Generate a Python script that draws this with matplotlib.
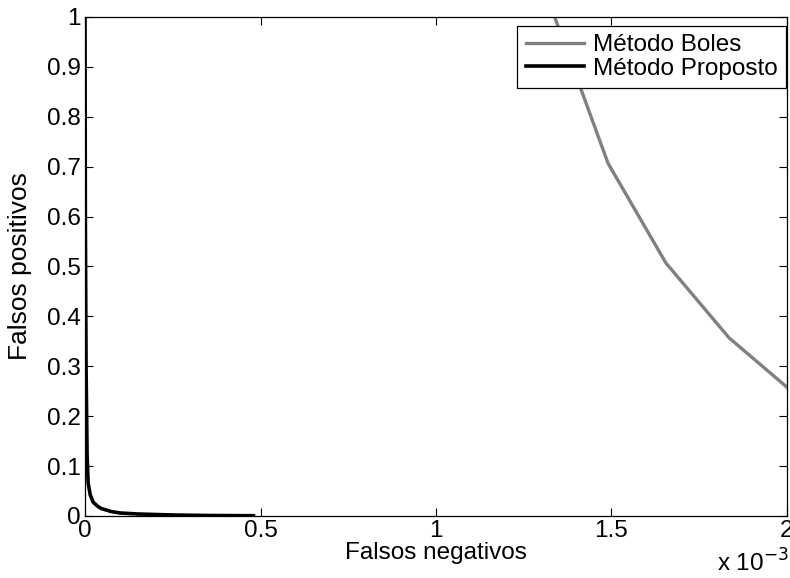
import matplotlib
matplotlib.use("Agg")
import matplotlib.pyplot as plt
from matplotlib.ticker import FuncFormatter, MultipleLocator

# Método Boles (falsos negativos, falsos positivos)
boles_fn = [1.296e-3, 1.338e-3, 1.49e-3, 1.655e-3, 1.835e-3, 2.0e-3, 2.2e-3]
boles_fp = [1.08, 1.0, 0.707, 0.507, 0.357, 0.258, 0.14]

# Método Proposto
prop_fn = [0.0, 0.001e-3, 0.003e-3, 0.006e-3, 0.009e-3, 0.015e-3, 0.023e-3,
           0.035e-3, 0.046e-3, 0.06e-3, 0.074e-3, 0.1e-3, 0.15e-3, 0.25e-3,
           0.35e-3, 0.48e-3]
prop_fp = [1.0, 0.6, 0.3, 0.12, 0.066, 0.042, 0.028, 0.02, 0.015, 0.012,
           0.009, 0.006, 0.004, 0.002, 0.001, 0.0005]

xticks = [0, 0.5e-3, 1e-3, 1.5e-3, 2e-3]

plt.rcParams["font.family"] = ["Liberation Sans", "DejaVu Sans"]
plt.rcParams["font.size"] = 17.5

fig = plt.figure(figsize=(7.9, 5.78), dpi=100)
ax = fig.add_axes([0.1076, 0.1073, 0.8886, 0.8633])

ax.plot(boles_fn, boles_fp, color="#808080", lw=2.4, label="Método Boles")
ax.plot(prop_fn, prop_fp, color="black", lw=2.6, label="Método Proposto")

ax.set_xlim(0, 2e-3)
ax.set_ylim(0, 1)
ax.set_xticks(xticks)
ax.xaxis.set_major_formatter(FuncFormatter(lambda v, p: f"{v * 1e3:g}"))
ax.yaxis.set_major_locator(MultipleLocator(0.1))
ax.yaxis.set_major_formatter(FuncFormatter(lambda v, p: f"{v:g}"))
ax.tick_params(direction="in", length=6, width=0.8, top=True, right=True,
               pad=3)
for s in ax.spines.values():
    s.set_linewidth(0.9)

ax.set_xlabel("Falsos negativos", labelpad=0)
ax.set_ylabel("Falsos positivos", fontsize=19, labelpad=11)
fig.text(0.998, 0.003, "x 10$^{-3}$", ha="right", va="bottom", fontsize=17.5)

leg = ax.legend(loc="upper right", bbox_to_anchor=(0.9986, 0.982),
                fancybox=False, framealpha=1, edgecolor="black",
                borderaxespad=0, handlelength=2.4, handletextpad=0.35,
                borderpad=0.35, labelspacing=0.05)
leg.get_frame().set_linewidth(0.9)

fig.savefig("out.png", dpi=100)
